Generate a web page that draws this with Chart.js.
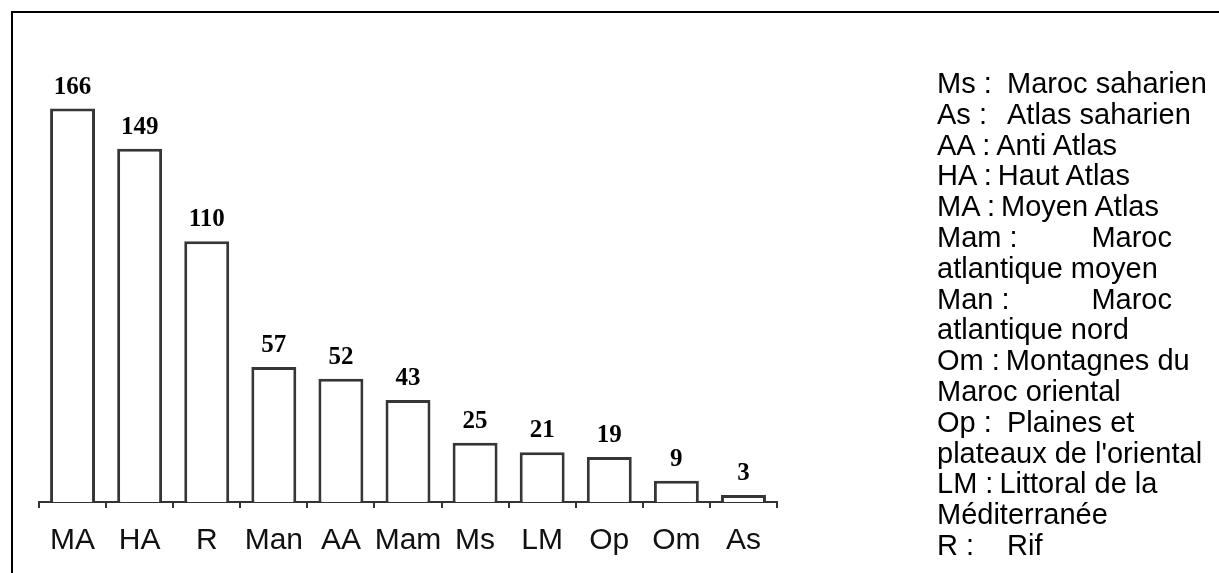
<!DOCTYPE html>
<html>
<head>
<meta charset="utf-8">
<script src="https://cdn.jsdelivr.net/npm/chart.js@4/dist/chart.umd.min.js"></script>
<style>
  html, body { margin: 0; padding: 0; background: #fff; }
  #wrap { position: relative; width: 1219px; height: 573px; overflow: hidden; }
  #frame { position: absolute; left: 11px; top: 11px; right: -4px; bottom: -4px;
           border-top: 2px solid #000; border-left: 2px solid #000; }
  #chart { position: absolute; left: 0; top: 0; }
  #key { position: absolute; left: 937px; top: 68px; width: 235px;
         font-family: "Liberation Sans", Arial, sans-serif; font-size: 29px;
         line-height: 30.8px; color: #000; white-space: nowrap; }
  #key .row { display: flex; }
  #key .row.just { justify-content: space-between; }
  #key .k { flex: 0 0 auto; display: inline-block; width: 70px; }
  #key .k.auto { width: auto; margin-right: 6px; }
  #key span { flex-shrink: 0; }
</style>
</head>
<body>
<div id="wrap">
  <canvas id="chart" width="1219" height="573"></canvas>
  <div id="frame"></div>
  <div id="key"></div>
</div>
<script>
// Natural regions of Morocco and their counts
const regions = ["MA", "HA", "R", "Man", "AA", "Mam", "Ms", "LM", "Op", "Om", "As"];
const counts = [166, 149, 110, 57, 52, 43, 25, 21, 19, 9, 3];

// Abbreviation key shown on the right
const keyRows = [
  ["Ms :", "Maroc saharien", ""],
  ["As :", "Atlas saharien", ""],
  ["AA :", "Anti Atlas", "auto"],
  ["HA :", "Haut Atlas", "auto"],
  ["MA :", "Moyen Atlas", "auto"],
  ["Mam :", "Maroc", "just"],
  ["atlantique moyen", null, "line"],
  ["Man :", "Maroc", "just"],
  ["atlantique nord", null, "line"],
  ["Om :", "Montagnes du", "auto"],
  ["Maroc oriental", null, "line"],
  ["Op :", "Plaines et", ""],
  ["plateaux de l'oriental", null, "line"],
  ["LM :", "Littoral de la", "auto"],
  ["Méditerranée", null, "line"],
  ["R :", "Rif", ""]
];

const key = document.getElementById("key");
keyRows.forEach(([a, b, mode]) => {
  const row = document.createElement("div");
  row.className = "row" + (mode === "just" ? " just" : "");
  if (mode === "line") {
    row.textContent = a;
  } else if (mode === "just") {
    const s1 = document.createElement("span"); s1.textContent = a;
    const s2 = document.createElement("span"); s2.textContent = b;
    row.append(s1, s2);
  } else {
    const s1 = document.createElement("span");
    s1.className = "k" + (mode === "auto" ? " auto" : "");
    s1.textContent = a;
    const s2 = document.createElement("span"); s2.textContent = b;
    row.append(s1, s2);
  }
  key.appendChild(row);
});

// Value printed above each bar
const valueLabels = {
  id: "valueLabels",
  afterDatasetsDraw(chart) {
    const ctx = chart.ctx;
    const meta = chart.getDatasetMeta(0);
    ctx.save();
    ctx.font = "bold 25px 'Liberation Serif', 'Times New Roman', serif";
    ctx.fillStyle = "#000";
    ctx.textAlign = "center";
    ctx.textBaseline = "alphabetic";
    meta.data.forEach((bar, i) => {
      ctx.fillText(String(counts[i]), bar.x, bar.y - 15);
    });
    ctx.restore();
  }
};

new Chart(document.getElementById("chart"), {
  type: "bar",
  data: {
    labels: regions,
    datasets: [{
      data: counts,
      backgroundColor: "#ffffff",
      borderColor: "#363636",
      borderWidth: 3,
      categoryPercentage: 1,
      barPercentage: 0.67
    }]
  },
  options: {
    responsive: false,
    animation: false,
    events: [],
    layout: { padding: { left: 39, right: 442, top: 28, bottom: 0 } },
    plugins: { legend: { display: false }, tooltip: { enabled: false } },
    scales: {
      x: {
        afterFit(scale) { scale.height = 71; },
        grid: {
          offset: true,
          drawOnChartArea: false,
          drawTicks: true,
          tickLength: 6,
          color: "#333",
          lineWidth: 2
        },
        border: { display: true, color: "#333", width: 2 },
        ticks: {
          color: "#111",
          padding: 15,
          maxRotation: 0,
          minRotation: 0,
          autoSkip: false,
          font: { family: "'Liberation Sans', Arial, sans-serif", size: 30 }
        }
      },
      y: {
        display: false,
        min: 0,
        max: 200
      }
    }
  },
  plugins: [valueLabels]
});
</script>
</body>
</html>
